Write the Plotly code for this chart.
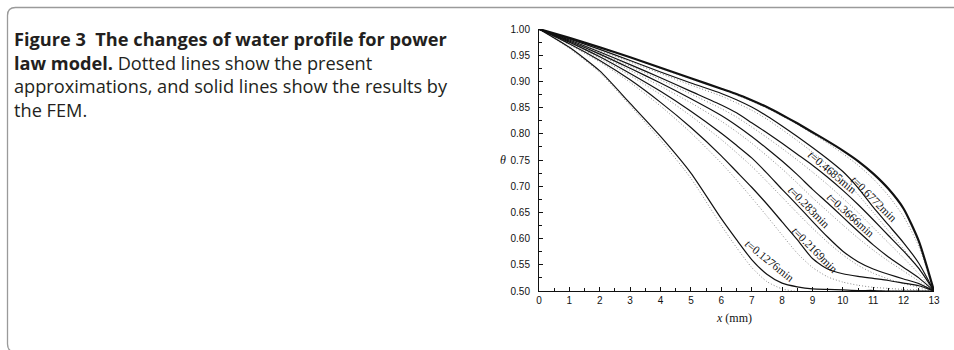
import plotly.graph_objects as go

# ---------------- data ----------------
x_grid = [0, 1, 2, 3, 4, 5, 6, 6.5, 7, 7.5, 8, 8.5, 9, 9.5, 10, 10.5, 11, 11.5, 12, 12.5, 13]

# FEM results (solid)
fem_c1 = [1, 0.983, 0.965, 0.946, 0.926, 0.906, 0.886, 0.876, 0.864, 0.851, 0.836, 0.820, 0.803, 0.786, 0.768, 0.748, 0.724, 0.695, 0.657, 0.595, 0.5]
fem_c2 = [1, 0.981, 0.961, 0.940, 0.918, 0.897, 0.877, 0.865, 0.851, 0.834, 0.815, 0.795, 0.774, 0.752, 0.728, 0.697, 0.660, 0.626, 0.592, 0.553, 0.5]
fem_c3 = [1, 0.979, 0.956, 0.932, 0.907, 0.881, 0.855, 0.840, 0.821, 0.802, 0.782, 0.761, 0.740, 0.717, 0.692, 0.665, 0.636, 0.606, 0.576, 0.543, 0.5]
fem_c4 = [1, 0.977, 0.952, 0.925, 0.897, 0.867, 0.835, 0.816, 0.795, 0.772, 0.748, 0.722, 0.694, 0.668, 0.641, 0.614, 0.588, 0.565, 0.545, 0.525, 0.5]
fem_c5 = [1, 0.975, 0.947, 0.915, 0.881, 0.843, 0.801, 0.778, 0.754, 0.725, 0.694, 0.664, 0.633, 0.603, 0.576, 0.556, 0.542, 0.532, 0.523, 0.514, 0.5]
fem_c6 = [1, 0.972, 0.940, 0.903, 0.860, 0.812, 0.758, 0.728, 0.698, 0.666, 0.632, 0.598, 0.562, 0.542, 0.533, 0.528, 0.524, 0.520, 0.515, 0.510, 0.5]
fem_c7 = [1, 0.965, 0.920, 0.858, 0.795, 0.725, 0.638, 0.598, 0.560, 0.532, 0.515, 0.508, 0.504, 0.503, 0.502, 0.501, 0.501, 0.500, 0.500, 0.500, 0.5]

# present approximations (dotted)
apx_c1 = [1, 0.983, 0.965, 0.946, 0.925, 0.905, 0.885, 0.874, 0.862, 0.849, 0.834, 0.818, 0.800, 0.782, 0.762, 0.740, 0.714, 0.682, 0.642, 0.585, 0.5]
apx_c2 = [1, 0.980, 0.959, 0.937, 0.915, 0.893, 0.872, 0.859, 0.845, 0.828, 0.808, 0.787, 0.765, 0.741, 0.715, 0.684, 0.650, 0.615, 0.580, 0.543, 0.5]
apx_c3 = [1, 0.978, 0.954, 0.929, 0.903, 0.876, 0.848, 0.832, 0.813, 0.793, 0.772, 0.750, 0.727, 0.703, 0.677, 0.650, 0.621, 0.592, 0.563, 0.533, 0.5]
apx_c4 = [1, 0.976, 0.950, 0.921, 0.891, 0.859, 0.824, 0.804, 0.782, 0.758, 0.733, 0.706, 0.678, 0.652, 0.626, 0.601, 0.578, 0.557, 0.538, 0.519, 0.5]
apx_c5 = [1, 0.974, 0.944, 0.911, 0.875, 0.834, 0.789, 0.764, 0.738, 0.709, 0.679, 0.649, 0.620, 0.593, 0.569, 0.549, 0.534, 0.523, 0.514, 0.507, 0.5]
apx_c6 = [1, 0.970, 0.937, 0.898, 0.853, 0.802, 0.744, 0.712, 0.678, 0.643, 0.607, 0.572, 0.545, 0.527, 0.517, 0.511, 0.507, 0.505, 0.503, 0.502, 0.5]
apx_c7 = [1, 0.963, 0.917, 0.854, 0.788, 0.715, 0.625, 0.583, 0.545, 0.518, 0.504, 0.499, 0.497, 0.497, 0.498, 0.499, 0.500, 0.500, 0.500, 0.500, 0.5]

fem_series = [fem_c1, fem_c2, fem_c3, fem_c4, fem_c5, fem_c6, fem_c7]
apx_series = [apx_c1, apx_c2, apx_c3, apx_c4, apx_c5, apx_c6, apx_c7]

time_labels = ["0.6772", "0.4685", "0.3666", "0.283", "0.2169", "0.1276"]
x_ticks = list(range(0, 14))
y_ticks = [0.50, 0.55, 0.60, 0.65, 0.70, 0.75, 0.80, 0.85, 0.90, 0.95, 1.00]

# ---------------- layout geometry ----------------
W, H = 954, 350
PL, PR, PT, PB = 539, 934, 29, 291


def px(xp):
    return (xp - PL) / (PR - PL)


def py(yp):
    return (PB - yp) / (PB - PT)


fig = go.Figure()

for s in apx_series:
    fig.add_trace(go.Scatter(x=x_grid, y=s, mode="lines",
                             line=dict(color="#8c8c8c", width=1, dash="1px,2px", shape="spline", smoothing=0.6),
                             hoverinfo="skip", showlegend=False))
for i, s in enumerate(fem_series):
    fig.add_trace(go.Scatter(x=x_grid, y=s, mode="lines",
                             line=dict(color="#111111", width=2.2 if i == 0 else 1.2, shape="spline", smoothing=0.6),
                             hoverinfo="skip", showlegend=False))

serif = "Liberation Serif, Times New Roman, serif"
sans = "Liberation Sans, Arial, sans-serif"
cap_font = "Open Sans, Noto Sans, sans-serif"

# curve labels: (x, y, angle)
label_pos = [(11.02, 0.675, 45), (9.65, 0.728, 40), (10.25, 0.645, 42),
             (8.88, 0.660, 45), (9.08, 0.578, 45), (7.6, 0.558, 39)]
annotations = []
for t, (lx, ly, ang) in zip(time_labels, label_pos):
    annotations.append(dict(x=lx, y=ly, xref="x", yref="y", text="<i>t</i>=" + t + "min",
                            showarrow=False, textangle=ang, font=dict(family=serif, size=11.5, color="#111")))

# axis titles
annotations.append(dict(x=px(498), y=py(160), xref="paper", yref="paper", text="<i>θ</i>", showarrow=False,
                        font=dict(family=serif, size=12, color="#111")))
annotations.append(dict(x=px(734), y=py(327), xref="paper", yref="paper", text="<i>x</i> (mm)", showarrow=False,
                        font=dict(family=serif, size=12, color="#111")))

# caption (one block, 4 lines)
caption = (
    "<b>Figure 3&nbsp;&nbsp;The changes of water profile for power</b><br>"
    "<b>law model.</b> Dotted lines show the present<br>"
    "approximations, and solid lines show the results by<br>"
    "the FEM."
)
annotations.append(dict(x=px(12), y=py(25), xref="paper", yref="paper", xanchor="left",
                        yanchor="top", text=caption, showarrow=False, align="left",
                        font=dict(family=cap_font, size=18.2, color="#231f20")))

# frame with rounded left corners
x0, y0, y1, x1, r = px(7.5), py(7.5), py(352), px(1100), 8
rx = r / (PR - PL)
ry = r / (PB - PT)
frame_path = (f"M {x1},{y0} L {x0 + rx},{y0} Q {x0},{y0} {x0},{y0 - ry} "
              f"L {x0},{y1 + ry} Q {x0},{y1} {x0 + rx},{y1} L {x1},{y1}")

fig.update_layout(
    width=W, height=H,
    margin=dict(l=PL, r=W - PR, t=PT, b=H - PB),
    paper_bgcolor="white", plot_bgcolor="white",
    annotations=annotations,
    shapes=[dict(type="path", path=frame_path, xref="paper", yref="paper",
                 line=dict(color="#9a9a9a", width=1.3))],
    xaxis=dict(range=[0, 13], tickvals=x_ticks, ticktext=[str(v) for v in x_ticks],
               ticks="inside", ticklen=4, tickcolor="#111", showline=True, linecolor="#111", linewidth=1,
               showgrid=False, zeroline=False, tickfont=dict(family=sans, size=10, color="#111"),
               minor=dict(ticks="inside", dtick=0.5, ticklen=3, tickcolor="#111", showgrid=False)),
    yaxis=dict(range=[0.5, 1.0], tickvals=y_ticks, ticktext=[f"{v:.2f}" for v in y_ticks],
               ticks="inside", ticklen=4, tickcolor="#111", showline=True, linecolor="#111", linewidth=1,
               showgrid=False, zeroline=False, tickfont=dict(family=sans, size=10, color="#111"),
               ticklabelstandoff=6,
               minor=dict(ticks="inside", dtick=0.025, ticklen=3, tickcolor="#111", showgrid=False)),
)

fig.write_html("out.html")
